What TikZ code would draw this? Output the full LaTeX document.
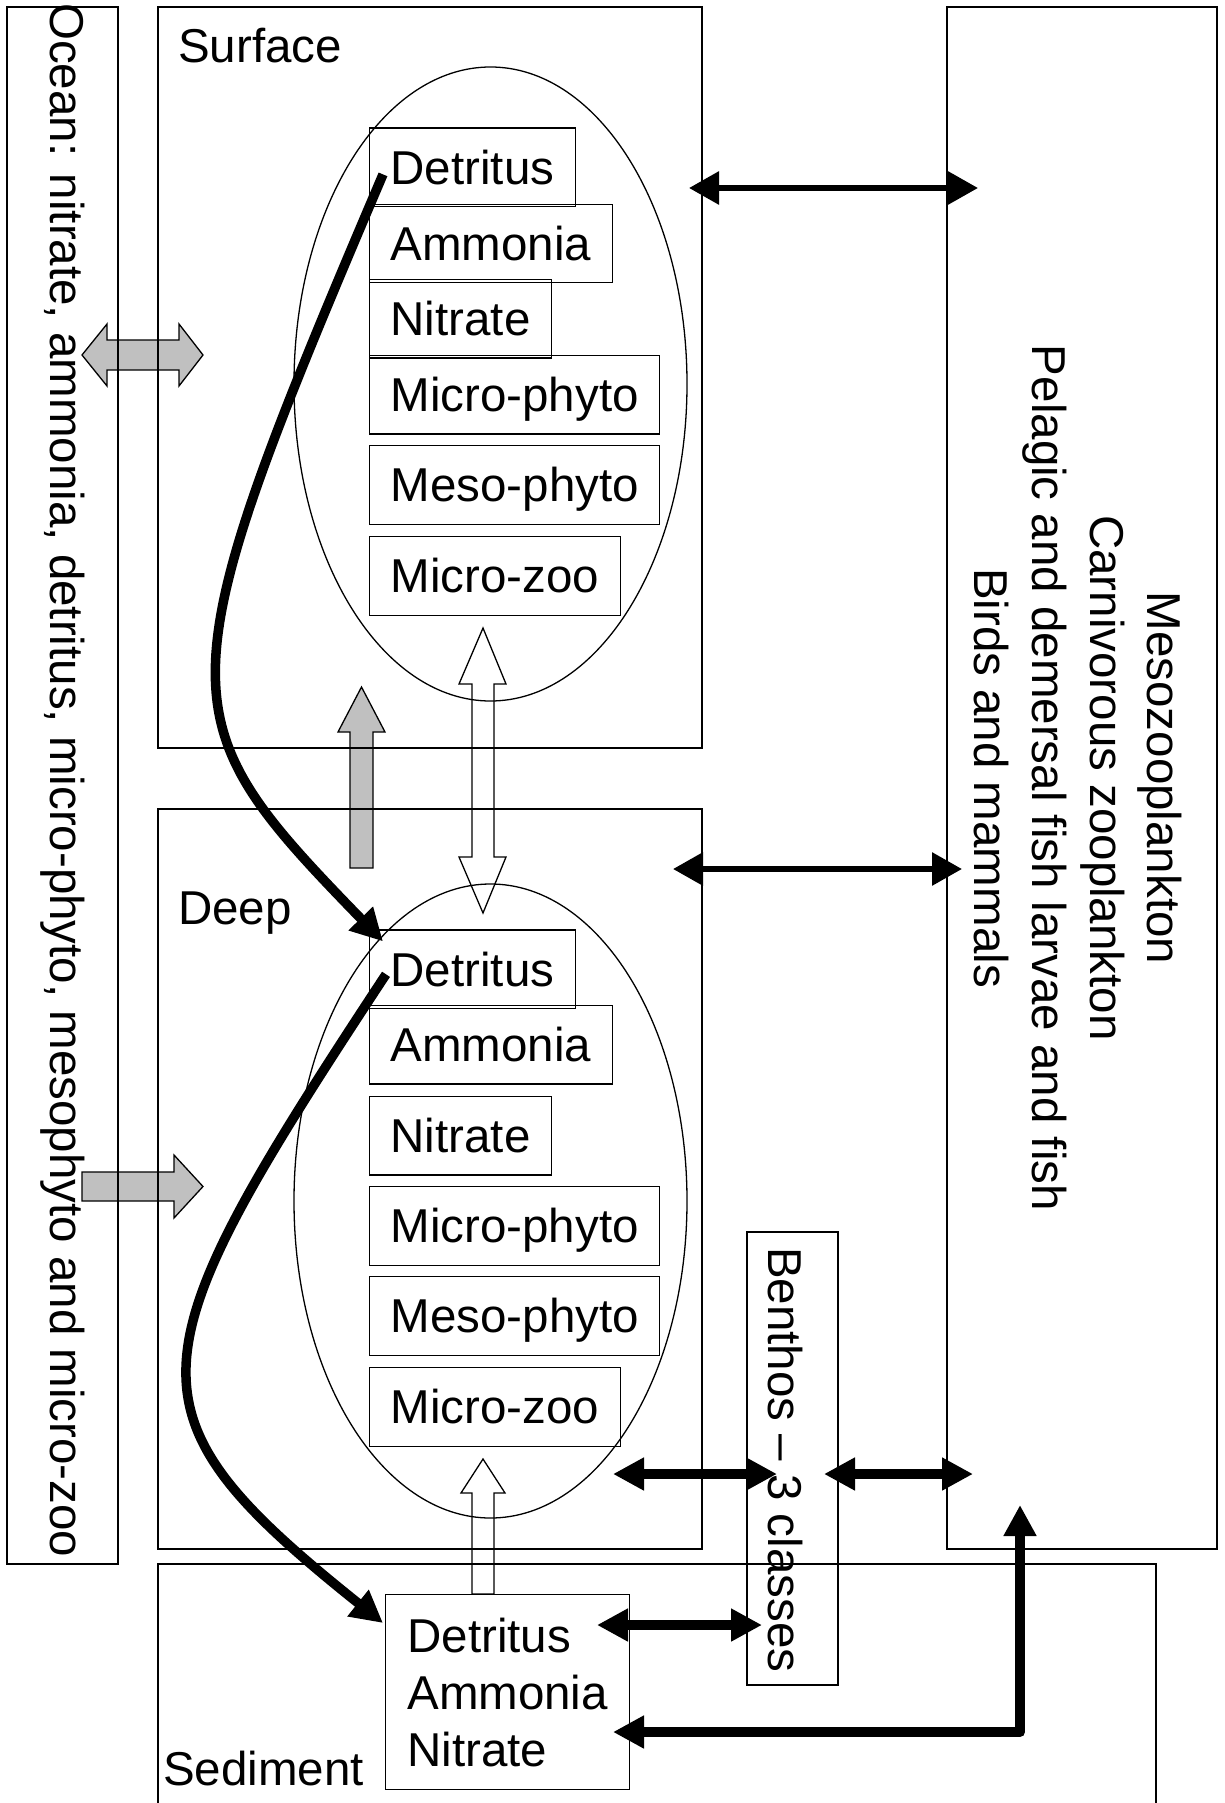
\documentclass[tikz,border=0pt]{standalone}
\usepackage{fontspec}
\setmainfont{Liberation Sans}
\usetikzlibrary{arrows.meta,shapes.geometric,calc}

\definecolor{silver}{RGB}{192,192,192}

\tikzset{
  every node/.style={font=\fontsize{47.5}{57}\selectfont},
  zone/.style={line width=1.3pt},
  zonename/.style={anchor=base west, inner sep=0pt},
  sidetext/.style={rotate=-90, anchor=base west, inner sep=0pt},
  predtext/.style={rotate=-90, anchor=base, inner sep=0pt},
  compart/.style={draw, line width=1.3pt, anchor=north west, inner xsep=21pt, inner ysep=0pt,
    minimum height=78.5pt, text height=34pt, text depth=0pt},
  pool/.style={draw, ellipse, line width=1.3pt, minimum width=393pt, minimum height=634pt, inner sep=0pt},
  flux/.style={line width=6pt, {Triangle[length=30pt,width=32pt]}-{Triangle[length=30pt,width=32pt]}},
  bigflux/.style={line width=10pt, line join=round, {Triangle[length=31pt,width=31pt]}-{Triangle[length=31pt,width=31pt]}},
  sink/.style={line width=9.5pt, -{Triangle[length=32pt,width=32pt]}},
  grayarr/.style={line width=1.3pt, fill=silver},
  whitearr/.style={line width=1.3pt, fill=white}
}

\begin{document}
\begin{tikzpicture}[x=1pt,y=-1pt]
\useasboundingbox (0,0) rectangle (1224,1803);
\clip (0,0) rectangle (1224,1803);

\filldraw[grayarr] (82,355) -- (107,324) -- (107,340) -- (179,340) -- (179,324) -- (203,355)
  -- (179,386) -- (179,370) -- (107,370) -- (107,386) -- cycle;
\filldraw[grayarr] (82,1172) -- (174,1172) -- (174,1155) -- (203,1186.5) -- (174,1218)
  -- (174,1201) -- (82,1201) -- cycle;
\filldraw[grayarr] (350,868) -- (350,732) -- (338,732) -- (361.5,687) -- (385,732)
  -- (373,732) -- (373,868) -- cycle;
\filldraw[whitearr] (483,628) -- (506,684) -- (494,684) -- (494,857) -- (506,857) -- (483,913)
  -- (459,857) -- (472,857) -- (472,684) -- (459,684) -- cycle;
\filldraw[whitearr] (483,1459) -- (505,1493) -- (494,1493) -- (494,1594) -- (472,1594)
  -- (472,1493) -- (461,1493) -- cycle;

\draw[zone] (7,7) rectangle (118,1564);
\draw[zone] (158,7) rectangle (702,748);
\draw[zone] (158,809) rectangle (702,1549);
\draw[zone] (947,7) rectangle (1217,1549);
\draw[zone] (158,1564) rectangle (1156,1830);
\draw[zone] (747,1232) rectangle (838,1685);

\node[sidetext] (ocean) at (50,3) {Ocean: nitrate, ammonia, detritus, micro-phyto, mesophyto and micro-zoo};
\node[zonename] (surface) at (178,63) {Surface};
\node[zonename] (deep) at (178,924) {Deep};
\node[zonename] (sediment) at (163,1785) {Sediment};
\node[sidetext] (benthos) at (768,1247) {Benthos -- 3 classes};

\node[predtext] (meso) at (1147,778) {Mesozooplankton};
\node[predtext] (carniv) at (1090,778) {Carnivorous zooplankton};
\node[predtext] (fish) at (1032,778) {Pelagic and demersal fish larvae and fish};
\node[predtext] (birds) at (974,778) {Birds and mammals};

\node[pool] (spool) at (490.5,384) {};
\node[pool] (dpool) at (490.5,1201) {};

\node[compart] (sdet) at (369,127.5) {Detritus};
\node[compart] (samm) at (369,203.6) {Ammonia};
\node[compart] (snit) at (369,278.7) {Nitrate};
\node[compart] (smph) at (369,354.8) {Micro-phyto};
\node[compart] (smsp) at (369,445) {Meso-phyto};
\node[compart] (smzo) at (369,536) {Micro-zoo};

\node[compart] (ddet) at (369,929.4) {Detritus};
\node[compart] (damm) at (369,1004.9) {Ammonia};
\node[compart] (dnit) at (369,1095.7) {Nitrate};
\node[compart] (dmph) at (369,1186) {Micro-phyto};
\node[compart] (dmsp) at (369,1276) {Meso-phyto};
\node[compart] (dmzo) at (369,1367) {Micro-zoo};

\node[draw, line width=1.3pt, anchor=north west, align=left, inner sep=0pt,
  minimum width=244pt, minimum height=195pt] (sedpool) at (385,1594) {Detritus\\Ammonia\\Nitrate};

\coordinate (sA) at (689,188);
\coordinate (mA) at (978,188);
\coordinate (dA) at (673,869);
\coordinate (mB) at (962,869);
\coordinate (dB) at (613,1474);
\coordinate (bA) at (777,1474);
\coordinate (bB) at (824,1474);
\coordinate (mC) at (973,1474);
\coordinate (sedA) at (597,1625);
\coordinate (bC) at (762,1625);
\coordinate (sedB) at (613,1732);
\coordinate (mD) at (1020,1505);

\draw[flux] (sA) -- (mA);
\draw[flux] (dA) -- (mB);
\draw[bigflux] (dB) -- (bA);
\draw[bigflux] (bB) -- (mC);
\draw[bigflux] (sedA) -- (bC);
\draw[bigflux] (sedB) -| (mD);

\draw[sink] ($(sdet.west)+(14,7)$) .. controls (160,697) and (166,718) .. ($(ddet.north west)+(14,12)$);
\draw[sink] ($(ddet.west)+(17,5)$) .. controls (130,1363) and (118,1411) .. ($(sedpool.north west)+(-2,29)$);
\end{tikzpicture}
\end{document}
